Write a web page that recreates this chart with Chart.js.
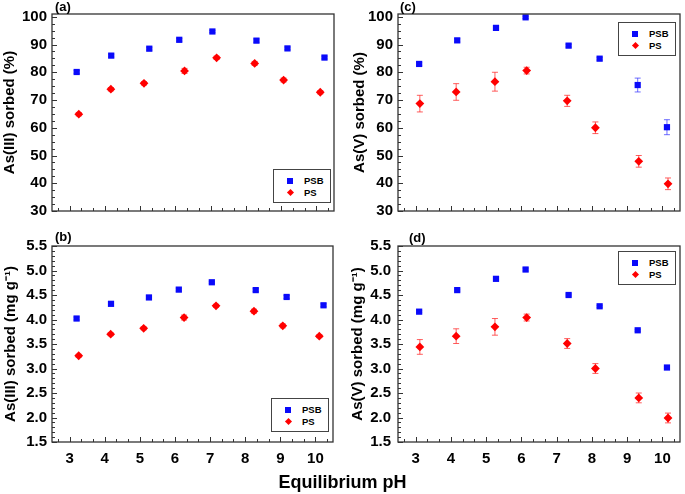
<!DOCTYPE html>
<html>
<head>
<meta charset="utf-8">
<script src="https://cdn.jsdelivr.net/npm/chart.js@4.4.0/dist/chart.umd.min.js"></script>
<style>
    body { margin: 0; background: #fff; width: 685px; height: 494px; position: relative; overflow: hidden; font-family: "Liberation Sans", Arial, sans-serif; }
    .pane { position: absolute; }
    .tag { position: absolute; font-weight: bold; font-size: 13px; line-height: 13px; }
    .leg { position: absolute; width: 56px; height: 32px; border: 1.5px solid #444; background: #fff; font-weight: bold; font-size: 9.5px; }
    .leg span { position: absolute; }
    #xlab { position: absolute; left: 0; width: 685px; top: 473px; text-align: center; font-weight: bold; font-size: 18px; line-height: 18px; }
</style>
</head>
<body>
<div class="pane" style="left:0;top:0"><canvas id="pa" width="340" height="225"></canvas></div>
<div class="pane" style="left:0;top:225px"><canvas id="pb" width="340" height="269"></canvas></div>
<div class="pane" style="left:340px;top:0"><canvas id="pc" width="345" height="225"></canvas></div>
<div class="pane" style="left:340px;top:225px"><canvas id="pd" width="345" height="269"></canvas></div>
<div class="tag" style="left:55px;top:0">(a)</div>
<div class="tag" style="left:55px;top:230px">(b)</div>
<div class="tag" style="left:400px;top:0">(c)</div>
<div class="tag" style="left:409px;top:231px">(d)</div>
<div id="xlab">Equilibrium pH</div>
<script>
var seriesNames = ["PSB", "PS"];
var phTicks = [3, 4, 5, 6, 7, 8, 9, 10];
var pctTicks = [30, 40, 50, 60, 70, 80, 90, 100];
var mgTicks = [1.5, 2.0, 2.5, 3.0, 3.5, 4.0, 4.5, 5.0, 5.5];

// As(III)
var ph3PSB = [3.20, 4.18, 5.26, 6.11, 7.05, 8.30, 9.18, 10.23];
var ph3PS = [3.26, 4.17, 5.11, 6.26, 7.17, 8.25, 9.07, 10.11];
var pct3PSB = [80.1, 86.0, 88.5, 91.7, 94.7, 91.4, 88.6, 85.3];
var pct3PSBerr = [0.5, 0.5, 0.5, 0.5, 0.4, 0.6, 0.5, 0.5];
var pct3PS = [64.9, 73.9, 76.0, 80.5, 85.2, 83.2, 77.2, 72.8];
var pct3PSerr = [0.6, 0.6, 0.6, 0.9, 0.6, 0.7, 0.7, 0.6];
var mg3PSB = [4.02, 4.32, 4.45, 4.61, 4.76, 4.60, 4.46, 4.29];
var mg3PSBerr = [0.03, 0.03, 0.03, 0.03, 0.02, 0.03, 0.03, 0.03];
var mg3PS = [3.26, 3.70, 3.82, 4.04, 4.28, 4.17, 3.87, 3.66];
var mg3PSerr = [0.03, 0.03, 0.03, 0.05, 0.03, 0.04, 0.04, 0.03];

// As(V)
var ph5PSB = [3.10, 4.18, 5.28, 6.12, 7.34, 8.22, 9.30, 10.13];
var ph5PS = [3.12, 4.15, 5.25, 6.15, 7.30, 8.10, 9.33, 10.16];
var pct5PSB = [83.0, 91.5, 96.0, 99.8, 89.6, 84.9, 75.4, 60.2];
var pct5PSBerr = [0.5, 0.6, 0.5, 0.4, 0.5, 0.5, 2.5, 2.7];
var pct5PS = [68.7, 72.9, 76.6, 80.6, 69.7, 60.0, 47.9, 39.8];
var pct5PSerr = [3.0, 3.0, 3.4, 1.2, 2.0, 2.1, 2.1, 2.1];
var mg5PSB = [4.16, 4.60, 4.83, 5.02, 4.50, 4.27, 3.78, 3.02];
var mg5PSBerr = [0.02, 0.02, 0.02, 0.03, 0.02, 0.02, 0.02, 0.02];
var mg5PS = [3.44, 3.66, 3.85, 4.04, 3.51, 3.00, 2.40, 1.99];
var mg5PSerr = [0.15, 0.15, 0.17, 0.07, 0.10, 0.10, 0.10, 0.10];

var blue = "rgb(10, 10, 250)";
var red = "rgb(255, 0, 0)";
var tickFont = { family: "Liberation Sans", size: 15, weight: "bold" };
var titleFont = { family: "Liberation Sans", size: 15, weight: "bold" };

function pts(xs, ys) {
    return xs.map(function (x, i) { return { x: x, y: ys[i] }; });
}

// frame, inward ticks and error bars
var framePlugin = {
    id: "frame",
    beforeDatasetsDraw: function (chart) {
        var ctx = chart.ctx, xs = chart.scales.x, ys = chart.scales.y;
        ctx.save();
        ctx.lineWidth = 1;
        chart.data.datasets.forEach(function (ds) {
            ctx.strokeStyle = ds.errColor;
            ds.data.forEach(function (p, i) {
                var e = ds.err[i];
                var px = xs.getPixelForValue(p.x);
                var y1 = ys.getPixelForValue(p.y - e), y2 = ys.getPixelForValue(p.y + e);
                ctx.beginPath();
                ctx.moveTo(px, y1); ctx.lineTo(px, y2);
                ctx.moveTo(px - 3, y1); ctx.lineTo(px + 3, y1);
                ctx.moveTo(px - 3, y2); ctx.lineTo(px + 3, y2);
                ctx.stroke();
            });
        });
        ctx.restore();
    },
    afterDraw: function (chart, args, opts) {
        var ctx = chart.ctx, a = chart.chartArea, xs = chart.scales.x, ys = chart.scales.y;
        var k, v, len;
        ctx.save();
        ctx.strokeStyle = "#333";
        ctx.lineWidth = 1;
        ctx.beginPath();
        for (k = Math.ceil(xs.min / opts.xMinor - 1e-6); k * opts.xMinor <= xs.max + 1e-6; k++) {
            v = k * opts.xMinor;
            len = Math.abs(v - Math.round(v)) < 1e-6 ? 5 : 3;
            var px = Math.round(xs.getPixelForValue(v)) + 0.5;
            ctx.moveTo(px, a.bottom); ctx.lineTo(px, a.bottom - len);
        }
        for (k = Math.ceil(ys.min / opts.yMinor - 1e-6); k * opts.yMinor <= ys.max + 1e-6; k++) {
            v = k * opts.yMinor;
            len = Math.abs(v / opts.yMajor - Math.round(v / opts.yMajor)) < 1e-6 ? 5 : 3;
            var py = Math.round(ys.getPixelForValue(v)) + 0.5;
            ctx.moveTo(a.left, py); ctx.lineTo(a.left + len, py);
        }
        ctx.stroke();
        ctx.lineWidth = 1.3;
        ctx.strokeRect(a.left, a.top, a.right - a.left, a.bottom - a.top);
        ctx.restore();
    }
};

function panel(id, c) {
    return new Chart(document.getElementById(id), {
        type: "scatter",
        data: {
            datasets: [{
                label: seriesNames[0],
                data: pts(c.x1, c.y1),
                err: c.e1,
                errColor: "rgba(60, 60, 255, 0.75)",
                pointStyle: "rect",
                pointRadius: 4.4,
                backgroundColor: blue,
                borderColor: blue,
                borderWidth: 0
            }, {
                label: seriesNames[1],
                data: pts(c.x2, c.y2),
                err: c.e2,
                errColor: "rgba(255, 40, 40, 0.75)",
                pointStyle: "rectRot",
                pointRadius: 4.4,
                backgroundColor: red,
                borderColor: red,
                borderWidth: 0
            }]
        },
        options: {
            responsive: false,
            animation: false,
            layout: { padding: { top: c.top, right: c.right, left: 0, bottom: 0 } },
            plugins: {
                legend: { display: false },
                tooltip: { enabled: false },
                frame: { xMinor: 1 / 3, yMinor: c.yMinor, yMajor: c.yMajor }
            },
            scales: {
                x: {
                    type: "linear", min: 2.5, max: 10.5,
                    grid: { display: false, drawTicks: false },
                    border: { display: false },
                    afterBuildTicks: function (s) { s.ticks = phTicks.map(function (v) { return { value: v }; }); },
                    afterFit: function (s) { s.height = c.bottom; },
                    ticks: { display: c.showX, padding: 8, color: "#000", font: tickFont }
                },
                y: {
                    type: "linear", min: c.ymin, max: c.ymax,
                    grid: { display: false, drawTicks: false },
                    border: { display: false },
                    afterBuildTicks: function (s) { s.ticks = c.yTicks.map(function (v) { return { value: v }; }); },
                    afterFit: function (s) { s.width = c.leftW; },
                    ticks: {
                        padding: c.tickPad, color: "#000", font: tickFont,
                        callback: function (v) { return c.dec ? v.toFixed(1) : v; }
                    },
                    title: { display: true, text: c.title, color: "#000", font: titleFont, padding: { top: c.titlePad, bottom: 0 } }
                }
            }
        },
        plugins: [framePlugin]
    });
}

function legendBox(left, top) {
    var box = document.createElement("div");
    box.className = "leg";
    box.style.left = left + "px";
    box.style.top = top + "px";
    box.innerHTML =
        '<span style="left:13px;top:8px;width:6px;height:6px;background:' + blue + '"></span>' +
        '<span style="left:30px;top:5px">' + seriesNames[0] + '</span>' +
        '<span style="left:13.5px;top:20px;width:5px;height:5px;background:' + red + ';transform:rotate(45deg)"></span>' +
        '<span style="left:30px;top:17px">' + seriesNames[1] + '</span>';
    document.body.appendChild(box);
}

panel("pa", { x1: ph3PSB, y1: pct3PSB, e1: pct3PSBerr, x2: ph3PS, y2: pct3PS, e2: pct3PSerr,
    ymin: 30, ymax: 101, yTicks: pctTicks, yMinor: 2.5, yMajor: 10, dec: false,
    title: "As(III) sorbed (%)", top: 13, right: 6, bottom: 12, leftW: 52, tickPad: 5, titlePad: 1, showX: false });
panel("pb", { x1: ph3PSB, y1: mg3PSB, e1: mg3PSBerr, x2: ph3PS, y2: mg3PS, e2: mg3PSerr,
    ymin: 1.5, ymax: 5.5, yTicks: mgTicks, yMinor: 0.1, yMajor: 0.5, dec: true,
    title: "As(III) sorbed (mg g\u207B\u00B9)", top: 21, right: 7, bottom: 52, leftW: 52, tickPad: 5, titlePad: 2, showX: true });
panel("pc", { x1: ph5PSB, y1: pct5PSB, e1: pct5PSBerr, x2: ph5PS, y2: pct5PS, e2: pct5PSerr,
    ymin: 30, ymax: 101, yTicks: pctTicks, yMinor: 2.5, yMajor: 10, dec: false,
    title: "As(V) sorbed (%)", top: 13, right: 5, bottom: 12, leftW: 58, tickPad: 5, titlePad: 11, showX: false });
panel("pd", { x1: ph5PSB, y1: mg5PSB, e1: mg5PSBerr, x2: ph5PS, y2: mg5PS, e2: mg5PSerr,
    ymin: 1.5, ymax: 5.5, yTicks: mgTicks, yMinor: 0.1, yMajor: 0.5, dec: true,
    title: "As(V) sorbed (mg g\u207B\u00B9)", top: 21, right: 5, bottom: 52, leftW: 58, tickPad: 7, titlePad: 9, showX: true });

legendBox(273, 169);
legendBox(271, 398);
legendBox(618, 22);
legendBox(618, 251);
</script>
</body>
</html>
